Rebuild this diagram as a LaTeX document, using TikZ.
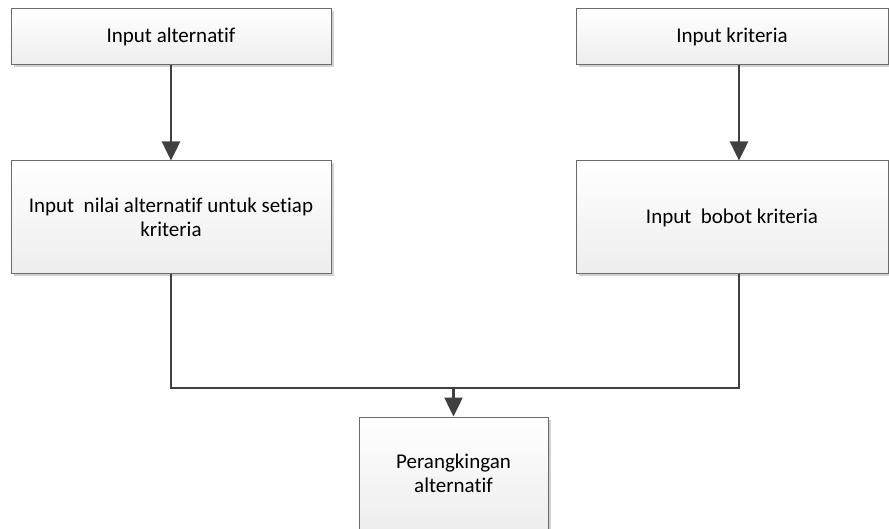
\documentclass[tikz,border=0pt]{standalone}
\usepackage{fontspec}
\setmainfont{Carlito}[Ligatures=NoCommon]
\usetikzlibrary{arrows.meta, shadows}
\definecolor{boxline}{HTML}{6B6B6B}
\definecolor{boxfill}{HTML}{EDEDED}
\definecolor{flowline}{HTML}{404040}

\begin{document}
\begin{tikzpicture}[x=1pt, y=-1pt,
  box/.style={draw=boxline, line width=1pt, top color=white, bottom color=boxfill,
    align=center, inner sep=0pt, font=\fontsize{21}{24}\selectfont,
    drop shadow={shadow xshift=2.5pt, shadow yshift=-2.5pt, fill=black!18, opacity=1}},
  link/.style={draw=flowline, line width=2.5pt},
  flow/.style={link, -{Triangle[length=19pt, width=18pt]}}]
  \useasboundingbox (0,0) rectangle (889,529);
  % kotak proses
  \node[box, minimum width=320pt, minimum height=56pt] (alt) at (171,37) {Input alternatif};
  \node[box, minimum width=312pt, minimum height=56pt] (krit) at (732,37) {Input kriteria};
  \node[box, minimum width=320pt, minimum height=113pt] (nilai) at (171,217.5)
    {Input\ \ nilai alternatif untuk setiap\\kriteria};
  \node[box, minimum width=312pt, minimum height=113pt] (bobot) at (732,217.5) {Input\ \ bobot kriteria};
  \node[box, minimum width=189pt, minimum height=113pt] (rank) at (453.5,473.5)
    {Perangkingan\\alternatif};
  \coordinate (merge) at (453.5,388);
  % panah
  \draw[flow] (alt.south) -- (nilai.north);
  \draw[flow] ([xshift=7pt]krit.south) -- ([xshift=7pt]bobot.north);
  \draw[link] (nilai.south) |- (merge);
  \draw[link] ([xshift=7pt]bobot.south) |- (merge);
  \draw[flow] (merge) -- (rank.north);
\end{tikzpicture}
\end{document}
